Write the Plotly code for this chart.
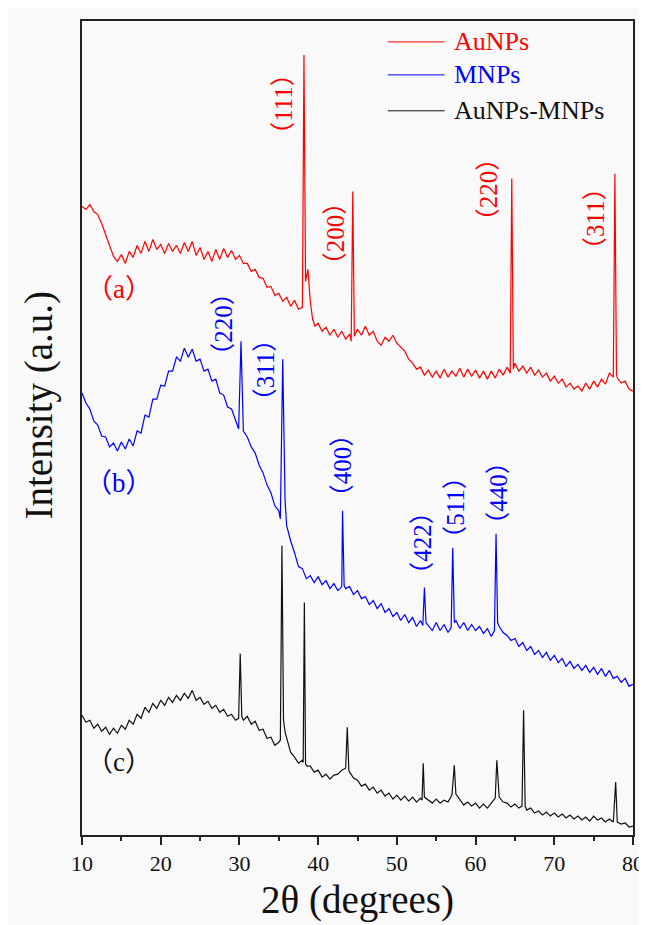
import plotly.graph_objects as go

# ---------------- data (2θ in degrees, intensity in a.u.) ----------------
au_x = [10,10.5,11,11.5,12,12.5,13,13.5,14,14.5,15,15.5,16,16.5,17,17.5,18,18.5,19,19.5,
        20,20.5,21,21.5,22,22.5,23,23.5,24,24.5,25,25.5,26,26.5,27,27.5,28,28.5,29,29.5,
        30,30.5,31,31.5,32,32.5,33,33.5,34,34.5,35,35.5,36,36.5,37,37.5,38,
        38.2,38.4,38.7,39.0,39.3,39.6,
        40,40.5,41,41.5,42,42.5,43,43.5,44,
        44.2,44.4,44.6,
        45,45.5,46,46.5,47,47.5,48,48.5,49,49.5,50,50.5,51,51.5,52,52.5,53,53.5,54,54.5,
        55,55.5,56,56.5,57,57.5,58,58.5,59,59.5,60,60.5,61,61.5,62,62.5,63,63.5,64,
        64.4,64.6,64.8,
        65,65.5,66,66.5,67,67.5,68,68.5,69,69.5,70,70.5,71,71.5,72,72.5,73,73.5,74,74.5,
        75,75.5,76,76.5,77,77.5,
        77.7,77.9,
        78,78.5,79,79.5,80]
au_y = [630,627,632,625,622,613,602,590,580,575,582,573,585,579,591,583,595,585,597,587,
        592,583,593,585,591,583,594,585,595,581,589,577,585,575,587,577,588,579,586,577,
        581,573,573,565,567,559,558,549,550,541,543,535,539,530,536,527,529,
        782,555,567,535,517,510,
        513,505,509,501,507,499,505,497,502,
        495,645,500,
        507,501,510,501,505,495,491,499,495,501,493,489,485,477,473,467,469,461,466,459,
        465,458,467,459,465,460,468,459,467,460,466,458,465,457,465,458,467,461,469,
        463,658,467,
        473,465,470,463,469,461,466,459,463,455,460,453,457,449,453,447,450,445,453,447,
        455,449,457,452,463,459,
        663,463,
        458,453,455,447,445]

mnp_x = [10,10.5,11,11.5,12,12.5,13,13.5,14,14.5,15,15.5,16,16.5,17,17.5,18,18.5,19,19.5,
         20,20.5,21,21.5,22,22.5,23,23.5,24,24.5,25,25.5,26,26.5,27,27.5,28,28.5,29,29.5,
         29.9,30.2,
         30.5,31,31.5,32,32.5,33,33.5,34,34.5,35,
         35.2,35.5,35.8,
         36,36.5,37,37.5,38,38.5,39,39.5,40,40.5,41,41.5,42,42.5,43,
         43.1,43.3,
         43.5,44,44.5,45,45.5,46,46.5,47,47.5,48,48.5,49,49.5,50,50.5,51,51.5,52,52.5,53,
         53.3,53.5,53.7,
         54,54.5,55,55.5,56,56.5,
         56.9,57.1,57.3,
         57.5,58,58.5,59,59.5,60,60.5,61,61.5,62,
         62.4,62.6,62.8,
         63,63.5,64,64.5,65,65.5,66,66.5,67,67.5,68,68.5,69,69.5,70,70.5,71,71.5,72,72.5,
         73,73.5,74,74.5,75,75.5,76,76.5,77,77.5,78,78.5,79,79.5,80]
mnp_y = [443,433,427,415,411,400,399,389,393,385,394,387,397,390,405,403,421,419,437,437,
         451,450,465,465,479,475,488,479,487,475,477,465,467,455,457,443,441,429,427,415,
         407,495,
         405,399,389,383,371,363,351,343,330,325,
         317,477,335,
         310,295,283,269,267,257,260,253,259,251,255,247,252,245,249,
         325,250,
         247,249,241,245,237,239,231,235,227,232,223,227,219,223,215,221,213,218,209,215,
         210,248,213,
         210,205,213,205,211,203,
         208,288,213,
         215,207,213,205,211,205,209,202,207,199,
         205,302,213,
         209,203,200,195,197,189,193,185,189,181,185,178,183,175,180,173,177,169,174,167,
         171,165,170,163,168,161,167,159,165,157,159,153,157,149,151]

mix_x = [10,10.5,11,11.5,12,12.5,13,13.5,14,14.5,15,15.5,16,16.5,17,17.5,18,18.5,19,19.5,
         20,20.5,21,21.5,22,22.5,23,23.5,24,24.5,25,25.5,26,26.5,27,27.5,28,28.5,29,29.5,
         29.9,30.1,30.3,
         30.5,31,31.5,32,32.5,33,33.5,34,34.5,35,
         35.2,35.4,35.6,35.8,
         36,36.5,37,37.5,38,
         38.1,38.25,38.4,38.6,
         39,39.5,40,40.5,41,41.5,42,42.5,43,43.5,
         43.7,43.9,
         44,44.5,45,45.5,46,46.5,47,47.5,48,48.5,49,49.5,50,50.5,51,51.5,52,52.5,53,
         53.2,53.35,
         53.5,54,54.5,55,55.5,56,56.5,57,
         57.3,
         57.5,58,58.5,59,59.5,60,60.5,61,61.5,62,62.5,
         62.7,62.9,
         63,63.5,64,64.5,65,65.5,
         65.9,66.1,66.3,
         66.5,67,67.5,68,68.5,69,69.5,70,70.5,71,71.5,72,72.5,73,73.5,74,74.5,75,75.5,76,
         76.5,77,77.5,
         77.8,
         78,78.5,79,79.5,80]
mix_y = [120,113,115,107,111,104,108,101,107,102,110,106,115,111,121,117,128,123,132,127,
         135,130,138,133,140,135,142,137,145,135,138,131,134,127,130,123,126,119,121,115,
         117,182,119,
         115,119,111,114,105,106,97,98,90,93,
         95,290,115,103,
         97,83,78,72,75,
         73,233,71,69,
         69,63,65,58,61,56,60,61,65,67,
         108,65,
         63,57,55,49,51,45,48,42,45,39,42,36,40,35,39,34,38,33,37,
         35,72,
         38,35,32,36,32,35,33,40,
         70,
         41,35,30,33,29,32,27,31,27,32,37,
         75,40,
         38,33,32,28,31,27,
         29,125,29,
         25,27,22,24,20,23,19,22,18,21,17,20,16,19,15,18,14,19,15,17,
         13,16,13,
         53,
         13,11,12,8,9]

series_names = ["AuNPs", "MNPs", "AuNPs-MNPs"]
series_colors = ["#ff0000", "#0000ff", "#111111"]

# peak (hkl) labels: text, x (deg), y (a.u.)
au_labels = ["（111）", "（200）", "（220）", "（311）"]
au_label_x = [35.67, 42.23, 61.66, 75.22]
au_label_y = [733, 603, 647, 618]
mnp_labels = ["（220）", "（311）", "（400）", "（422）", "（511）", "（440）"]
mnp_label_x = [27.97, 33.27, 43.19, 53.33, 57.5, 62.98]
mnp_label_y = [513, 466, 371, 293, 329, 343]
curve_tags = ["（a）", "（b）", "（c）"]
curve_tag_x = [14.73, 14.73, 14.73]
curve_tag_y = [547, 353, 73]

# ---------------- figure ----------------
fig = go.Figure()
for xs, ys, name, col in zip([au_x, mnp_x, mix_x], [au_y, mnp_y, mix_y], series_names, series_colors):
    fig.add_trace(go.Scatter(x=xs, y=ys, mode="lines", name=name,
                             line=dict(color=col, width=1.2), showlegend=False))

serif = "Liberation Serif, Times New Roman, Noto Sans CJK SC, serif"
ann = []
for t, x, y in zip(au_labels, au_label_x, au_label_y):
    ann.append(dict(text=t, x=x, y=y, xref="x", yref="y", showarrow=False, textangle=-90,
                    font=dict(family=serif, size=25, color="#ff0000")))
for t, x, y in zip(mnp_labels, mnp_label_x, mnp_label_y):
    ann.append(dict(text=t, x=x, y=y, xref="x", yref="y", showarrow=False, textangle=-90,
                    font=dict(family=serif, size=25, color="#0000ff")))
for t, x, y, col in zip(curve_tags, curve_tag_x, curve_tag_y, series_colors):
    ann.append(dict(text=t, x=x, y=y, xref="x", yref="y", showarrow=False,
                    font=dict(family=serif, size=27, color=col)))

# y-axis title placed as annotation (it sits above the plot's vertical centre)
ann.append(dict(text="Intensity (a.u.)", x=-0.0775, y=0.528, xref="paper", yref="paper",
                showarrow=False, textangle=-90, xanchor="center", yanchor="middle",
                font=dict(family=serif, size=39, color="#111111")))

# manual legend (long line samples, coloured text)
legend_y = [0.9743, 0.9338, 0.8897]
shapes = []
for name, col, ly in zip(series_names, series_colors, legend_y):
    shapes.append(dict(type="line", xref="paper", yref="paper", x0=0.555, x1=0.658, y0=ly, y1=ly,
                       line=dict(color=col, width=1)))
    ann.append(dict(text=name, x=0.672, y=ly, xref="paper", yref="paper", showarrow=False,
                    xanchor="left", yanchor="middle",
                    font=dict(family=serif, size=26, color=col)))

axis_col = "#222222"
fig.update_layout(
    width=647, height=925,
    margin=dict(l=74, r=18, t=11, b=98),
    paper_bgcolor="#f9f9f9", plot_bgcolor="#f9f9f9",
    showlegend=False,
    font=dict(family=serif, color="#111111"),
    annotations=ann, shapes=shapes,
    xaxis=dict(range=[10, 80], tick0=10, dtick=10, ticks="outside", ticklen=8, tickwidth=1.5,
               tickcolor=axis_col, showline=True, linecolor=axis_col, linewidth=1.5, mirror=True,
               showgrid=False, zeroline=False,
               tickfont=dict(family=serif, size=22, color="#111111"),
               minor=dict(dtick=5, ticks="outside", ticklen=4, tickwidth=1.5, tickcolor=axis_col,
                          showgrid=False),
               title=dict(text="2θ (degrees)", font=dict(family=serif, size=39, color="#111111"),
                          standoff=11)),
    yaxis=dict(range=[0, 816], showticklabels=False, ticks="", showline=True, linecolor=axis_col,
               linewidth=1.5, mirror=True, showgrid=False, zeroline=False),
)

fig.write_html("out.html")
